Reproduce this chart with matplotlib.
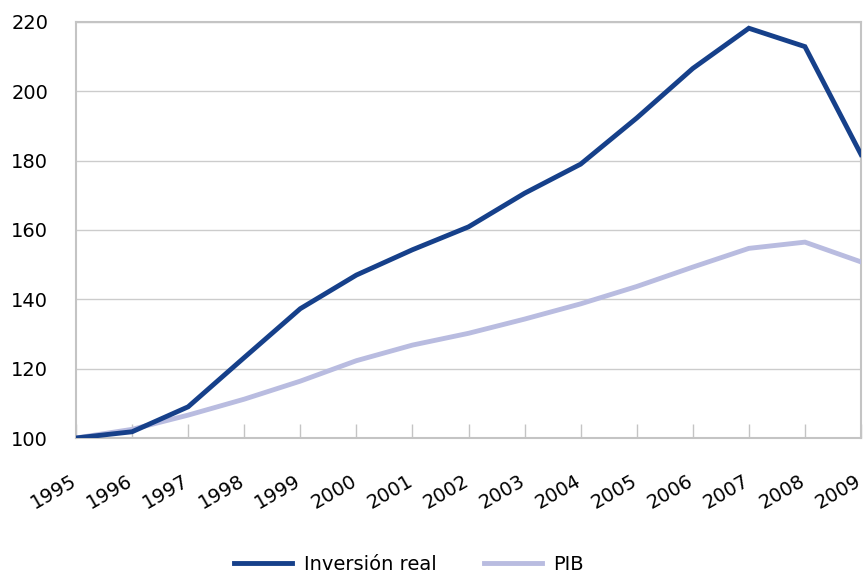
import matplotlib.pyplot as plt
import matplotlib.transforms as mtransforms
from matplotlib.lines import Line2D

years = list(range(1995, 2010))
inversion_real = [100, 101.8, 109, 123.2, 137.3, 147, 154.3, 160.9, 170.6, 179, 192.3, 206.6, 218.2, 212.9, 181.8]
pib = [100, 102.5, 106.6, 111.2, 116.4, 122.3, 126.8, 130.2, 134.3, 138.7, 143.7, 149.3, 154.7, 156.5, 150.8]

plt.rcParams['font.family'] = ['DejaVu Sans']

fig = plt.figure(figsize=(8.65, 5.76), dpi=100)
ax = fig.add_axes([76 / 865, 1 - 438 / 576, 785 / 865, 416 / 576])

ax.plot(years, pib, color='#B9BCE0', lw=3.5, solid_joinstyle='miter', zorder=3)
ax.plot(years, inversion_real, color='#16408A', lw=3.5, solid_joinstyle='miter', zorder=4)

ax.set_xlim(1995, 2009)
ax.set_ylim(100, 220)
ax.set_yticks(range(100, 221, 20))
ax.set_xticks(years)
ax.set_xticklabels([str(y) for y in years], rotation=30, ha='right', rotation_mode='anchor')
ax.grid(axis='y', color='#CCCCCC', lw=1)
ax.set_axisbelow(True)

for s in ax.spines.values():
    s.set_color('#C4C4C4')
    s.set_linewidth(1.5)

ax.tick_params(axis='x', direction='in', length=10, color='#C4C4C4', width=1,
               labelsize=14, pad=24)
ax.tick_params(axis='y', length=0, labelsize=14, pad=20)

# nudge the slanted year labels a little to the left so 2009 stays inside
shift = mtransforms.ScaledTranslation(-6 / 100, 0, fig.dpi_scale_trans)
for lbl in ax.get_xticklabels():
    lbl.set_transform(lbl.get_transform() + shift)

handles = [Line2D([], [], color='#16408A', lw=3.5),
           Line2D([], [], color='#B9BCE0', lw=3.5)]
fig.legend(handles, ['Inversión real', 'PIB'], loc='center', bbox_to_anchor=(0.473, 0.02),
           ncol=2, frameon=False, fontsize=14, handlelength=3.0, handletextpad=0.6,
           columnspacing=2.4)

fig.savefig('out.png', dpi=100)
